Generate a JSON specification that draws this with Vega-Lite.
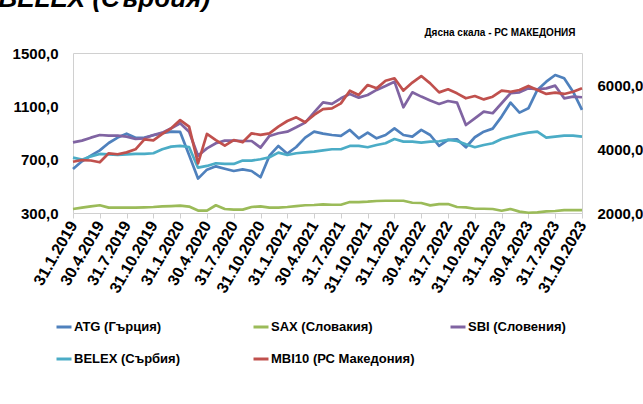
{
  "$schema": "https://vega.github.io/schema/vega-lite/v6.json",
  "width": 509,
  "height": 160,
  "autosize": {"type": "none"},
  "padding": {"left": 73, "top": 53, "right": 61, "bottom": 191},
  "background": "white",
  "config": {
    "font": "Liberation Sans",
    "view": {"stroke": "#d0d0d0", "strokeWidth": 1}
  },
  "data": {
    "values": [
      {"d": "31.1.2019", "ATG": 630, "SAX": 330, "SBI": 830, "BELEX": 715, "MBI10": 3600},
      {"d": "28.2.2019", "ATG": 688, "SAX": 340, "SBI": 843, "BELEX": 700, "MBI10": 3655},
      {"d": "31.3.2019", "ATG": 730, "SAX": 350, "SBI": 865, "BELEX": 725, "MBI10": 3640},
      {"d": "30.4.2019", "ATG": 770, "SAX": 358, "SBI": 885, "BELEX": 743, "MBI10": 3585},
      {"d": "31.5.2019", "ATG": 825, "SAX": 340, "SBI": 880, "BELEX": 740, "MBI10": 3865},
      {"d": "30.6.2019", "ATG": 866, "SAX": 340, "SBI": 880, "BELEX": 735, "MBI10": 3835},
      {"d": "31.7.2019", "ATG": 895, "SAX": 340, "SBI": 873, "BELEX": 740, "MBI10": 3895},
      {"d": "31.8.2019", "ATG": 864, "SAX": 340, "SBI": 855, "BELEX": 743, "MBI10": 3990},
      {"d": "30.9.2019", "ATG": 866, "SAX": 342, "SBI": 860, "BELEX": 743, "MBI10": 4300},
      {"d": "31.10.2019", "ATG": 883, "SAX": 345, "SBI": 885, "BELEX": 748, "MBI10": 4270},
      {"d": "30.11.2019", "ATG": 898, "SAX": 350, "SBI": 903, "BELEX": 778, "MBI10": 4470},
      {"d": "31.12.2019", "ATG": 910, "SAX": 352, "SBI": 935, "BELEX": 798, "MBI10": 4645},
      {"d": "31.1.2020", "ATG": 908, "SAX": 355, "SBI": 973, "BELEX": 803, "MBI10": 4905},
      {"d": "29.2.2020", "ATG": 735, "SAX": 348, "SBI": 910, "BELEX": 795, "MBI10": 4700},
      {"d": "31.3.2020", "ATG": 558, "SAX": 318, "SBI": 730, "BELEX": 640, "MBI10": 3550},
      {"d": "30.4.2020", "ATG": 625, "SAX": 318, "SBI": 785, "BELEX": 653, "MBI10": 4470},
      {"d": "31.5.2020", "ATG": 650, "SAX": 358, "SBI": 823, "BELEX": 673, "MBI10": 4280},
      {"d": "30.6.2020", "ATG": 632, "SAX": 330, "SBI": 843, "BELEX": 668, "MBI10": 4105},
      {"d": "31.7.2020", "ATG": 615, "SAX": 325, "SBI": 843, "BELEX": 668, "MBI10": 4280},
      {"d": "31.8.2020", "ATG": 627, "SAX": 325, "SBI": 840, "BELEX": 693, "MBI10": 4210},
      {"d": "30.9.2020", "ATG": 615, "SAX": 345, "SBI": 840, "BELEX": 693, "MBI10": 4490},
      {"d": "31.10.2020", "ATG": 568, "SAX": 350, "SBI": 790, "BELEX": 703, "MBI10": 4440},
      {"d": "30.11.2020", "ATG": 730, "SAX": 340, "SBI": 878, "BELEX": 718, "MBI10": 4490},
      {"d": "31.12.2020", "ATG": 803, "SAX": 340, "SBI": 898, "BELEX": 753, "MBI10": 4700},
      {"d": "31.1.2021", "ATG": 745, "SAX": 345, "SBI": 910, "BELEX": 735, "MBI10": 4875},
      {"d": "28.2.2021", "ATG": 795, "SAX": 352, "SBI": 943, "BELEX": 748, "MBI10": 4990},
      {"d": "31.3.2021", "ATG": 865, "SAX": 358, "SBI": 978, "BELEX": 755, "MBI10": 4835},
      {"d": "30.4.2021", "ATG": 910, "SAX": 360, "SBI": 1055, "BELEX": 760, "MBI10": 5065},
      {"d": "31.5.2021", "ATG": 895, "SAX": 365, "SBI": 1130, "BELEX": 770, "MBI10": 5245},
      {"d": "30.6.2021", "ATG": 885, "SAX": 362, "SBI": 1118, "BELEX": 778, "MBI10": 5270},
      {"d": "31.7.2021", "ATG": 878, "SAX": 362, "SBI": 1160, "BELEX": 778, "MBI10": 5425},
      {"d": "31.8.2021", "ATG": 923, "SAX": 382, "SBI": 1193, "BELEX": 803, "MBI10": 5820},
      {"d": "30.9.2021", "ATG": 860, "SAX": 382, "SBI": 1165, "BELEX": 803, "MBI10": 5690},
      {"d": "31.10.2021", "ATG": 903, "SAX": 385, "SBI": 1185, "BELEX": 793, "MBI10": 6000},
      {"d": "30.11.2021", "ATG": 860, "SAX": 390, "SBI": 1223, "BELEX": 810, "MBI10": 5895},
      {"d": "31.12.2021", "ATG": 885, "SAX": 392, "SBI": 1253, "BELEX": 823, "MBI10": 6135},
      {"d": "31.1.2022", "ATG": 935, "SAX": 392, "SBI": 1285, "BELEX": 855, "MBI10": 6210},
      {"d": "28.2.2022", "ATG": 885, "SAX": 392, "SBI": 1093, "BELEX": 835, "MBI10": 5825},
      {"d": "31.3.2022", "ATG": 873, "SAX": 377, "SBI": 1205, "BELEX": 835, "MBI10": 6075},
      {"d": "30.4.2022", "ATG": 923, "SAX": 375, "SBI": 1173, "BELEX": 828, "MBI10": 6280},
      {"d": "31.5.2022", "ATG": 885, "SAX": 357, "SBI": 1143, "BELEX": 835, "MBI10": 6050},
      {"d": "30.6.2022", "ATG": 803, "SAX": 367, "SBI": 1118, "BELEX": 838, "MBI10": 5770},
      {"d": "31.7.2022", "ATG": 848, "SAX": 367, "SBI": 1140, "BELEX": 848, "MBI10": 5865},
      {"d": "31.8.2022", "ATG": 853, "SAX": 345, "SBI": 1128, "BELEX": 840, "MBI10": 5740},
      {"d": "30.9.2022", "ATG": 793, "SAX": 342, "SBI": 960, "BELEX": 815, "MBI10": 5585},
      {"d": "31.10.2022", "ATG": 868, "SAX": 332, "SBI": 1010, "BELEX": 793, "MBI10": 5655},
      {"d": "30.11.2022", "ATG": 910, "SAX": 332, "SBI": 1060, "BELEX": 810, "MBI10": 5550},
      {"d": "31.12.2022", "ATG": 933, "SAX": 330, "SBI": 1048, "BELEX": 823, "MBI10": 5635},
      {"d": "31.1.2023", "ATG": 1023, "SAX": 317, "SBI": 1123, "BELEX": 855, "MBI10": 5825},
      {"d": "28.2.2023", "ATG": 1128, "SAX": 330, "SBI": 1198, "BELEX": 873, "MBI10": 5790},
      {"d": "31.3.2023", "ATG": 1053, "SAX": 310, "SBI": 1205, "BELEX": 890, "MBI10": 5845},
      {"d": "30.4.2023", "ATG": 1085, "SAX": 302, "SBI": 1235, "BELEX": 903, "MBI10": 5970},
      {"d": "31.5.2023", "ATG": 1223, "SAX": 305, "SBI": 1228, "BELEX": 910, "MBI10": 5845},
      {"d": "30.6.2023", "ATG": 1285, "SAX": 312, "SBI": 1235, "BELEX": 865, "MBI10": 5720},
      {"d": "31.7.2023", "ATG": 1335, "SAX": 315, "SBI": 1255, "BELEX": 873, "MBI10": 5760},
      {"d": "31.8.2023", "ATG": 1310, "SAX": 322, "SBI": 1160, "BELEX": 880, "MBI10": 5720},
      {"d": "30.9.2023", "ATG": 1210, "SAX": 322, "SBI": 1173, "BELEX": 880, "MBI10": 5790},
      {"d": "31.10.2023", "ATG": 1073, "SAX": 322, "SBI": 1168, "BELEX": 873, "MBI10": 5895}
    ]
  },
  "encoding": {
    "x": {
      "field": "d",
      "type": "ordinal",
      "sort": null,
      "scale": {"type": "point", "padding": 0},
      "axis": {
        "title": null,
        "values": ["31.1.2019", "30.4.2019", "31.7.2019", "31.10.2019", "31.1.2020", "30.4.2020", "31.7.2020", "31.10.2020", "31.1.2021", "30.4.2021", "31.7.2021", "31.10.2021", "31.1.2022", "30.4.2022", "31.7.2022", "31.10.2022", "31.1.2023", "30.4.2023", "31.7.2023", "31.10.2023"],
        "labelAngle": -60,
        "labelAlign": "right",
        "labelBaseline": "middle",
        "labelFont": "Liberation Sans",
        "labelFontSize": 16,
        "labelFontWeight": "bold",
        "labelColor": "#000000",
        "labelPadding": 4,
        "labelOverlap": false,
        "domain": false,
        "grid": false,
        "ticks": true,
        "tickColor": "#d0d0d0",
        "tickSize": 5
      }
    }
  },
  "layer": [
    {
      "transform": [{"fold": ["ATG", "SAX", "SBI", "BELEX"], "as": ["s", "v"]}],
      "mark": {"type": "line", "strokeWidth": 2.7, "strokeJoin": "round"},
      "encoding": {
        "y": {
          "field": "v",
          "type": "quantitative",
          "scale": {"domain": [300, 1500], "nice": false, "zero": false},
          "axis": {
            "values": [300, 700, 1100, 1500],
            "labelExpr": "replace(format(datum.value, '.1f'), '.', ',')",
            "labelFont": "Liberation Sans",
            "labelFontSize": 15,
            "labelFontWeight": "bold",
            "labelColor": "#000000",
            "labelPadding": 15,
            "ticks": false,
            "domain": false,
            "grid": false,
            "title": "BELEX (Сърбия)",
            "titleAngle": 0,
            "titleAlign": "left",
            "titleBaseline": "alphabetic",
            "titleX": -75,
            "titleY": -47,
            "titleFont": "Liberation Sans",
            "titleFontSize": 26,
            "titleFontStyle": "italic",
            "titleFontWeight": "bold",
            "titleColor": "#000000"
          }
        },
        "color": {
          "field": "s",
          "type": "nominal",
          "scale": {
            "domain": ["ATG", "SAX", "SBI", "BELEX", "MBI10"],
            "range": ["#4F81BD", "#9BBB59", "#8064A2", "#4BACC6", "#C0504D"]
          },
          "legend": {
            "title": null,
            "orient": "none",
            "legendX": -18,
            "legendY": 265,
            "direction": "horizontal",
            "columns": 3,
            "gridAlign": "all",
            "columnPadding": 29,
            "rowPadding": 16,
            "symbolType": "stroke",
            "symbolSize": 225,
            "symbolStrokeWidth": 3,
            "labelFont": "Liberation Sans",
            "labelFontSize": 13,
            "labelFontWeight": "bold",
            "labelColor": "#000000",
            "labelOffset": 1,
            "labelLimit": 300,
            "labelExpr": "datum.label == 'ATG' ? 'ATG (Гърция)' : datum.label == 'SAX' ? 'SAX (Словакия)' : datum.label == 'SBI' ? 'SBI (Словения)' : datum.label == 'BELEX' ? 'BELEX (Сърбия)' : 'MBI10 (РС Македония)'"
          }
        }
      }
    },
    {
      "transform": [{"fold": ["MBI10"], "as": ["s", "v"]}],
      "mark": {"type": "line", "strokeWidth": 2.7, "strokeJoin": "round"},
      "encoding": {
        "y": {
          "field": "v",
          "type": "quantitative",
          "scale": {"domain": [2000, 7000], "nice": false, "zero": false},
          "axis": {
            "orient": "right",
            "values": [2000, 4000, 6000],
            "labelExpr": "replace(format(datum.value, '.1f'), '.', ',')",
            "labelFont": "Liberation Sans",
            "labelFontSize": 15,
            "labelFontWeight": "bold",
            "labelColor": "#000000",
            "labelPadding": 15,
            "ticks": false,
            "domain": false,
            "grid": false,
            "title": "Дясна скала - РС МАКЕДОНИЯ",
            "titleAngle": 0,
            "titleAlign": "right",
            "titleBaseline": "middle",
            "titleX": -7,
            "titleY": -21,
            "titleFont": "Liberation Sans",
            "titleFontSize": 10,
            "titleFontWeight": "bold",
            "titleColor": "#000000"
          }
        },
        "color": {"field": "s", "type": "nominal"}
      }
    }
  ],
  "resolve": {"scale": {"y": "independent"}}
}
